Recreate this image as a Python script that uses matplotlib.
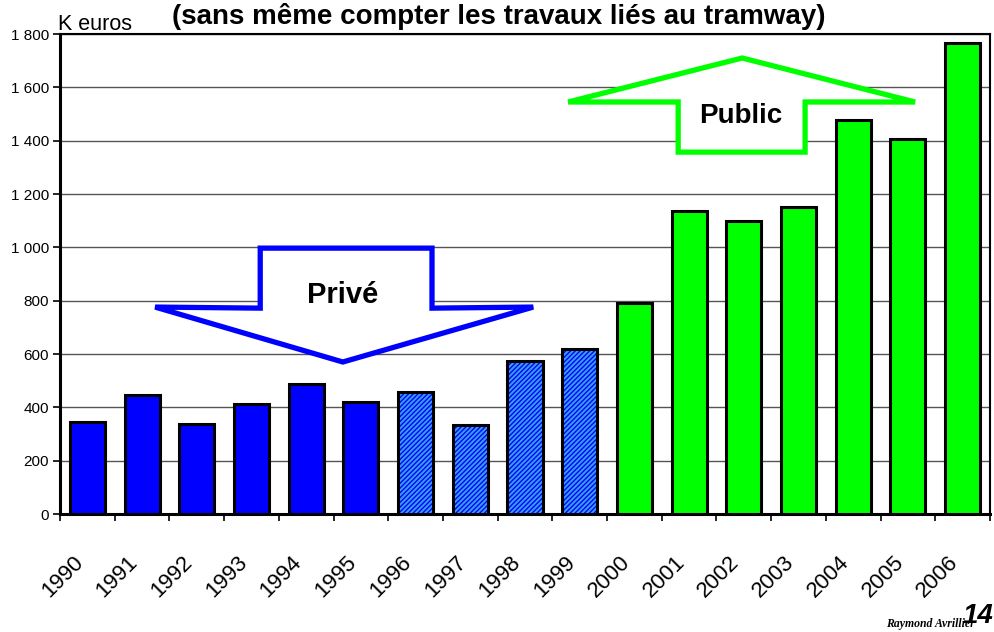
import matplotlib
matplotlib.use("Agg")
import matplotlib.pyplot as plt
from matplotlib import ticker
from matplotlib.patches import Polygon

years = [str(y) for y in range(1990, 2007)]
prive_plein = [345, 446, 337, 414, 487, 420]          # 1990-1995
prive_hachure = [459, 333, 573, 619]                  # 1996-1999
public = [790, 1136, 1099, 1150, 1477, 1406, 1765]    # 2000-2006

plt.rcParams['font.family'] = ['Liberation Sans', 'DejaVu Sans']
plt.rcParams['hatch.linewidth'] = 1.4

fig = plt.figure(figsize=(9.94, 6.32), dpi=100)
ax = fig.add_axes([60 / 994, 118 / 632, 930 / 994, 480 / 632])

x1 = list(range(0, 6))
x2 = list(range(6, 10))
x3 = list(range(10, 17))
w = 0.64

ax.bar(x1, prive_plein, width=w, color="#0000ff", edgecolor="black", linewidth=2.2, zorder=3)
# hachures bleu clair sur fond bleu
ax.bar(x2, prive_hachure, width=w, color="#0008f0", edgecolor="#3a9cff", hatch="///////", linewidth=0, zorder=3)
ax.bar(x2, prive_hachure, width=w, fill=False, edgecolor="black", linewidth=2.2, zorder=4)
ax.bar(x3, public, width=w, color="#00ff00", edgecolor="black", linewidth=2.2, zorder=3)

ax.set_xlim(-0.5, 16.5)
ax.set_ylim(0, 1800)
ax.set_yticks(range(0, 1801, 200))
ax.yaxis.set_major_formatter(ticker.FuncFormatter(lambda v, p: "{:,}".format(int(v)).replace(",", " ")))
ax.tick_params(axis="y", labelsize=11, length=5, width=1.2, direction="out", pad=3)
ax.grid(axis="y", color="#555555", linewidth=1, zorder=0)

ax.set_xticks(range(17))
ax.set_xticklabels(years, rotation=45, ha="right", fontsize=16)
ax.tick_params(axis="x", which="major", length=0, pad=27)
ax.set_xticks([i - 0.5 for i in range(18)], minor=True)
ax.tick_params(axis="x", which="minor", length=5, width=1.2, direction="out")

for side in ["left", "bottom"]:
    ax.spines[side].set_linewidth(2.2)
for side in ["top", "right"]:
    ax.spines[side].set_linewidth(1.5)

# flèches
prive_arrow = [(3.16, 997), (6.30, 997), (6.30, 772), (8.15, 776), (4.67, 570),
               (1.24, 776), (3.16, 772)]
public_arrow = [(11.97, 1710), (15.13, 1545), (13.12, 1545), (13.12, 1357),
                (10.80, 1357), (10.80, 1545), (8.79, 1545)]
ax.add_patch(Polygon(prive_arrow, closed=True, facecolor="white", edgecolor="#0000ff",
                     linewidth=3.8, joinstyle="miter", zorder=5))
ax.add_patch(Polygon(public_arrow, closed=True, facecolor="white", edgecolor="#00ff00",
                     linewidth=3.8, joinstyle="miter", zorder=5))
ax.text(4.67, 821, "Privé", fontsize=21, fontweight="bold", ha="center", va="center", zorder=6)
ax.text(11.95, 1492, "Public", fontsize=20, fontweight="bold", ha="center", va="center", zorder=6)

fig.text(58 / 994, 1 - 30 / 632, "K euros", fontsize=15.5, ha="left", va="baseline")
fig.text(499 / 994, 1 - 24 / 632, "(sans même compter les travaux liés au tramway)",
         fontsize=20, fontweight="bold", ha="center", va="baseline")
fig.text(886 / 994, 1 - 627 / 632, "Raymond Avrillier", fontsize=8.5, fontweight="bold",
         style="italic", family=["Liberation Serif", "DejaVu Serif"], ha="left", va="baseline")
fig.text(993 / 994, 1 - 623 / 632, "14", fontsize=20, fontweight="bold", style="italic",
         ha="right", va="baseline")

fig.savefig("out.png", dpi=100)
